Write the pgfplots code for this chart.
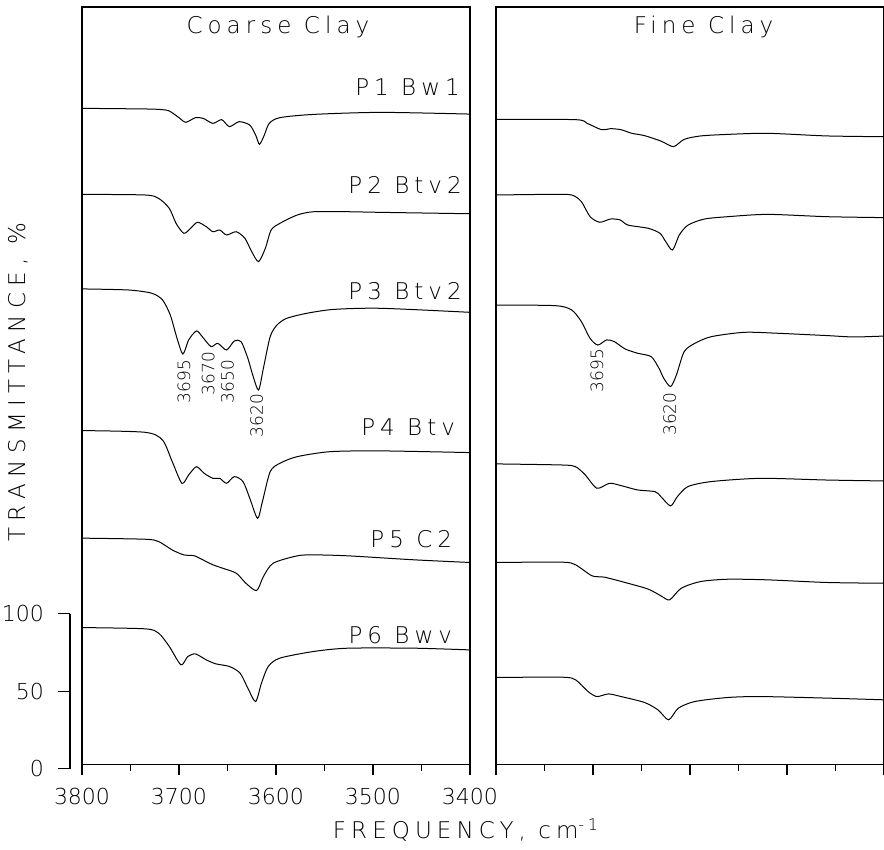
\documentclass[border=0pt]{standalone}
\usepackage{fontspec}
\setmainfont{DejaVu Sans ExtraLight}
\newfontfamily\spc{DejaVu Sans ExtraLight}[LetterSpace=22]
\newfontfamily\spcw{DejaVu Sans ExtraLight}[LetterSpace=28]
\usepackage{pgfplots}
\pgfplotsset{compat=1.18}

% 1 px of the reference = 0.5pt
\pgfplotsset{
  panel/.style={
    scale only axis, width=194pt, height=378.65pt,
    xmin=3400, xmax=3800, x dir=reverse,
    ymin=2.8, ymax=491.4, ytick=\empty,
    xtick={3400,3500,...,3800}, minor x tick num=1, xtick pos=left,
    tick align=outside, major tick length=5.5pt, minor tick length=3.5pt,
    axis line style={line width=0.6pt},
    every tick/.style={black, line width=0.6pt},
    xticklabel style={font=\fontsize{11}{13}\selectfont, yshift=-3pt,
      /pgf/number format/1000 sep={}, /pgf/number format/assume math mode=true},
    cycle list={black,solid,mark=none\\},
    every axis plot/.append style={line width=0.5pt, smooth, tension=0.45},
  },
}
\tikzset{
  samp/.style={anchor=east, font=\spc\fontsize{11.5}{13}\selectfont, inner sep=0pt},
  peak/.style={rotate=90, anchor=east, font=\fontsize{8.5}{10}\selectfont, inner sep=0pt},
}

\begin{document}
\begin{tikzpicture}
% ---- coarse clay ----
\begin{axis}[panel, at={(41pt,42.85pt)}, anchor=south west]
\addplot coordinates {(3800,426.0)(3735,425.6)(3718,425.2)(3710,424.3)(3700,420.0)(3693,417.0)(3683,420.0)(3675,419.5)(3665,416.3)(3656,418.7)(3648,414.2)(3638,417.4)(3627,415.2)(3621,408.8)(3617,402.8)(3612,408.8)(3607,416.3)(3596,420.0)(3561,422.1)(3492,423.4)(3400,422.3)};
\addplot coordinates {(3800,370.5)(3735,370.1)(3721,367.9)(3710,361.5)(3703,351.8)(3695,345.4)(3688,348.6)(3681,352.5)(3672,349.7)(3665,346.4)(3658,347.5)(3651,344.3)(3641,346.4)(3632,342.1)(3625,333.5)(3618,327.1)(3611,335.7)(3605,347.5)(3596,351.8)(3578,357.2)(3561,359.3)(3526,359.3)(3492,358.9)(3400,358.0)};
\addplot coordinates {(3800,309.5)(3752,308.8)(3728,306.7)(3717,302.4)(3709,292.7)(3702,277.6)(3696,267.5)(3690,276.6)(3682,282.4)(3676,278.7)(3667,272.3)(3660,274.4)(3651,270.1)(3643,275.9)(3636,275.5)(3629,264.7)(3624,254.0)(3618,244.3)(3613,258.3)(3606,278.7)(3599,286.2)(3589,290.5)(3568,293.8)(3540,296.3)(3492,297.0)(3400,294.4)};
\addplot coordinates {(3800,218.1)(3735,217.0)(3717,212.0)(3707,198.1)(3697,184.1)(3690,189.5)(3682,194.8)(3674,190.5)(3665,187.3)(3658,187.3)(3651,184.1)(3643,188.4)(3634,185.2)(3627,174.4)(3619,161.5)(3614,172.3)(3606,191.6)(3596,197.0)(3578,201.3)(3544,204.5)(3492,205.0)(3400,203.9)};
\addplot coordinates {(3800,148.7)(3735,148.0)(3721,146.5)(3707,141.1)(3695,137.9)(3684,137.3)(3672,133.6)(3665,131.5)(3655,129.3)(3641,126.1)(3631,119.6)(3620,114.9)(3613,123.9)(3603,132.5)(3578,137.3)(3561,137.9)(3526,137.3)(3457,134.7)(3400,133.0)};
\addplot coordinates {(3800,91.0)(3735,90.2)(3721,87.4)(3710,78.8)(3698,67.0)(3691,72.3)(3683,74.0)(3672,70.2)(3662,67.6)(3648,65.9)(3637,61.6)(3629,51.9)(3621,43.3)(3615,55.1)(3608,65.9)(3596,71.3)(3561,75.6)(3526,77.7)(3457,77.7)(3400,76.6)};
\node[font=\spc\fontsize{11.5}{13}\selectfont] at (axis cs:3598,478.5) {Coarse Clay};
\node[samp] at (axis cs:3410,439.8) {P1 Bw1};
\node[samp] at (axis cs:3408,376.6) {P2 Btv2};
\node[samp] at (axis cs:3408,308.2) {P3 Btv2};
\node[samp] at (axis cs:3415,220.5) {P4 Btv};
\node[samp] at (axis cs:3418,147.9) {P5 C2};
\node[samp] at (axis cs:3418,85.9) {P6 Bwv};
\node[peak] at (axis cs:3695,264.0) {3695};
\node[peak] at (axis cs:3670,269.0) {3670};
\node[peak] at (axis cs:3650,264.0) {3650};
\node[peak] at (axis cs:3620,242.0) {3620};
\end{axis}
% ---- fine clay ----
\begin{axis}[panel, at={(248pt,42.85pt)}, anchor=south west, xticklabels=\empty]
\addplot coordinates {(3800,418.9)(3718,418.7)(3706,416.3)(3691,412.2)(3682,412.9)(3671,412.2)(3660,409.9)(3647,408.4)(3630,404.9)(3617,401.3)(3606,406.0)(3589,408.2)(3561,409.2)(3520,409.9)(3459,408.2)(3400,407.7)};
\addplot coordinates {(3800,370.1)(3744,370.5)(3722,370.1)(3712,365.8)(3703,356.1)(3693,352.5)(3682,354.6)(3672,354.0)(3664,350.7)(3643,348.6)(3631,345.4)(3625,340.0)(3618,334.6)(3611,344.3)(3602,350.7)(3585,354.6)(3561,356.1)(3520,357.6)(3459,356.1)(3400,355.5)};
\addplot coordinates {(3800,299.1)(3739,298.7)(3722,295.9)(3712,288.4)(3703,277.6)(3695,273.3)(3686,276.6)(3678,275.5)(3667,270.8)(3654,268.0)(3640,265.8)(3632,258.3)(3627,251.8)(3620,246.5)(3614,254.0)(3606,269.0)(3595,274.4)(3578,278.7)(3544,281.5)(3510,280.9)(3459,279.4)(3431,278.5)(3400,279.1)};
\addplot coordinates {(3800,196.6)(3732,195.9)(3718,194.8)(3708,189.5)(3696,180.9)(3683,184.1)(3671,182.6)(3654,179.8)(3636,178.7)(3630,175.5)(3620,169.5)(3613,175.5)(3602,182.0)(3578,185.2)(3527,187.3)(3459,186.2)(3400,185.6)};
\addplot coordinates {(3800,133.0)(3732,133.2)(3718,131.5)(3701,124.4)(3688,123.5)(3664,119.6)(3643,115.8)(3630,111.5)(3621,108.9)(3609,116.4)(3589,120.7)(3561,122.2)(3520,121.8)(3459,120.1)(3400,119.6)};
\addplot coordinates {(3800,58.8)(3732,59.0)(3718,57.3)(3705,49.7)(3696,46.5)(3684,48.2)(3671,46.5)(3647,42.7)(3633,37.9)(3622,31.5)(3612,39.0)(3595,43.3)(3561,45.9)(3527,46.5)(3459,45.5)(3400,44.4)};
\node[font=\spc\fontsize{11.5}{13}\selectfont] at (axis cs:3586,478.5) {Fine Clay};
\node[peak] at (axis cs:3696,271.0) {3695};
\node[peak] at (axis cs:3621,243.0) {3620};
\end{axis}
% ---- transmittance scale ----
\begin{axis}[at={(35pt,40.65pt)}, anchor=south west, scale only axis,
  width=1pt, height=77.5pt, xmin=0, xmax=1, ymin=0, ymax=100,
  axis x line=none, axis y line=left, axis line style={-, line width=0.6pt},
  ytick={0,50,100}, tick align=outside, major tick length=6pt,
  every tick/.style={black, line width=0.6pt},
  yticklabel style={font=\fontsize{11}{13}\selectfont, xshift=-3.5pt,
    /pgf/number format/assume math mode=true}]
\end{axis}
\node[font=\spc\fontsize{11.5}{13}\selectfont] at (233pt,10pt) {FREQUENCY, cm\textsuperscript{-1}};
\node[font=\spcw\fontsize{11.5}{13}\selectfont, rotate=90] at (9pt,234pt) {TRANSMITTANCE, \%};
\pgfresetboundingbox
\path[use as bounding box] (0,0) rectangle (442pt,425pt);
\end{tikzpicture}
\end{document}
